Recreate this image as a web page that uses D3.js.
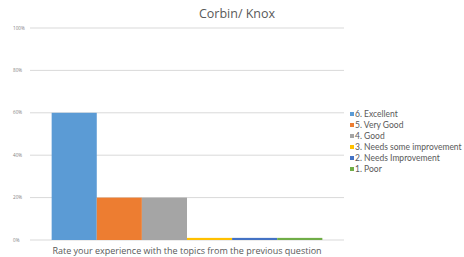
<!DOCTYPE html>
<html lang="en">
<head>
  <meta charset="UTF-8">
  <title>Corbin/ Knox</title>
  <script src="https://d3js.org/d3.v7.min.js"></script>
  <style>
    body { margin: 0; background: #fff; }
    svg { display: block; font-family: "Open Sans", "Liberation Sans", sans-serif; }
    .narrow { font-family: Lato, "Open Sans", sans-serif; }
  </style>
</head>
<body>
  <div id="chart"></div>
  <script>
    // data
    const categories = ["Rate your experience with the topics from the previous question"];
    const seriesNames = ["6. Excellent", "5. Very Good", "4. Good", "3. Needs some improvement", "2. Needs Improvement", "1. Poor"];
    const seriesValues = [60, 20, 20, 1, 1, 1];
    const seriesColors = ["#5b9bd5", "#ed7d31", "#a5a5a5", "#ffc000", "#4472c4", "#70ad47"];
    const yTicks = [0, 20, 40, 60, 80, 100];

    const width = 464;
    const height = 257;
    const plot = { left: 30, right: 344, top: 28, bottom: 240 };

    const svg = d3.select("#chart")
      .append("svg")
      .attr("width", width)
      .attr("height", height);

    const x0 = d3.scaleBand()
      .domain(categories)
      .range([plot.left, plot.right])
      .paddingInner(0)
      .paddingOuter(0.08);

    const x1 = d3.scaleBand()
      .domain(seriesNames)
      .range([0, x0.bandwidth()]);

    const y = d3.scaleLinear()
      .domain([0, 100])
      .range([plot.bottom, plot.top]);

    // title
    svg.append("text")
      .attr("x", 237)
      .attr("y", 18)
      .attr("text-anchor", "middle")
      .attr("font-size", 12.5)
      .attr("fill", "#595959")
      .text("Corbin/ Knox");

    // gridlines
    svg.append("g")
      .selectAll("line")
      .data(yTicks)
      .enter()
      .append("line")
      .attr("x1", plot.left)
      .attr("x2", plot.right)
      .attr("y1", d => y(d))
      .attr("y2", d => y(d))
      .attr("stroke", "#d9d9d9")
      .attr("stroke-width", 1);

    // tick labels (left aligned like the original)
    svg.append("g")
      .selectAll("text")
      .data(yTicks)
      .enter()
      .append("text")
      .attr("x", 13)
      .attr("y", d => y(d) + 1.6)
      .attr("font-size", 4.6)
      .attr("fill", "#7f7f7f")
      .text(d => d + "%");

    // bars
    const barData = seriesNames.map((name, i) => ({ cat: categories[0], name: name, value: seriesValues[i], color: seriesColors[i] }));

    svg.append("g")
      .selectAll("rect")
      .data(barData)
      .enter()
      .append("rect")
      .attr("x", d => x0(d.cat) + x1(d.name))
      .attr("y", d => y(d.value))
      .attr("width", x1.bandwidth())
      .attr("height", d => y(0) - y(d.value))
      .attr("fill", d => d.color);

    // category label
    svg.append("text")
      .attr("x", x0(categories[0]) + x0.bandwidth() / 2)
      .attr("y", 254)
      .attr("text-anchor", "middle")
      .attr("font-size", 9)
      .attr("fill", "#595959")
      .text(categories[0]);

    // legend
    const legend = svg.append("g")
      .attr("class", "narrow")
      .attr("transform", "translate(350,114)");

    const items = legend.selectAll("g")
      .data(barData)
      .enter()
      .append("g")
      .attr("transform", (d, i) => `translate(0,${i * 11})`);

    items.append("rect")
      .attr("x", 0)
      .attr("y", -2)
      .attr("width", 4)
      .attr("height", 4)
      .attr("fill", d => d.color);

    items.append("text")
      .attr("x", 5)
      .attr("y", 3)
      .attr("font-size", 8.5)
      .attr("fill", "#595959")
      .text(d => d.name);
  </script>
</body>
</html>
